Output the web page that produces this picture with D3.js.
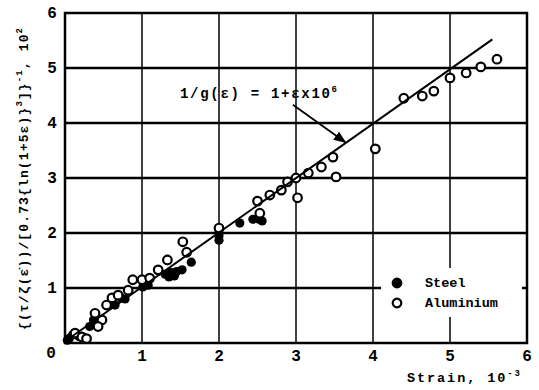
<!DOCTYPE html>
<html>
<head>
<meta charset="utf-8">
<script src="https://cdn.jsdelivr.net/npm/d3@7"></script>
<style>
  body { margin: 0; background: #fff; }
  svg { display: block; font-family: "Liberation Mono", "DejaVu Sans Mono", monospace; font-weight: bold; }
</style>
</head>
<body>
<div id="chart"></div>
<script>
// strain (10^-3) vs inverse normalised stress (10^2)
const steel = [
  [0.03, 0.05], [0.06, 0.09], [0.10, 0.15], [0.18, 0.12], [0.32, 0.30], [0.37, 0.42],
  [0.65, 0.69], [0.73, 0.82], [0.78, 0.80], [1.01, 1.02], [1.08, 1.05], [1.05, 1.10],
  [1.30, 1.25], [1.38, 1.28], [1.45, 1.30], [1.52, 1.33], [1.42, 1.22], [1.35, 1.20],
  [1.64, 1.47], [2.00, 2.05], [2.00, 1.87], [2.00, 1.95], [2.27, 2.18], [2.44, 2.25],
  [2.52, 2.25], [2.56, 2.22]
];
const aluminium = [
  [0.13, 0.18], [0.22, 0.11], [0.28, 0.08], [0.39, 0.54], [0.48, 0.42], [0.43, 0.30],
  [0.54, 0.69], [0.61, 0.82], [0.69, 0.87], [0.82, 0.96], [0.88, 1.15], [1.00, 1.15],
  [1.10, 1.18], [1.21, 1.33], [1.33, 1.51], [1.53, 1.84], [1.58, 1.65], [2.00, 2.09],
  [2.53, 2.36], [2.50, 2.58], [2.66, 2.69], [2.81, 2.78], [2.89, 2.93], [3.00, 3.00],
  [3.02, 2.64], [3.16, 3.09], [3.33, 3.20], [3.48, 3.38], [3.52, 3.02], [4.03, 3.53],
  [4.40, 4.45], [4.64, 4.49], [4.79, 4.58], [5.00, 4.82], [5.21, 4.91], [5.40, 5.02],
  [5.61, 5.16]
];
const fitLine = [[0.02, 0.05], [5.55, 5.52]];
const arrowPts = [[2.96, 4.33], [3.64, 3.65]];
const xTicks = [1, 2, 3, 4, 5, 6];
const yTicks = [1, 2, 3, 4, 5, 6];

const width = 539, height = 390;
const margin = { top: 13, right: 12, bottom: 47, left: 65 };

const x = d3.scaleLinear().domain([0, 6]).range([margin.left, width - margin.right]);
const y = d3.scaleLinear().domain([0, 6]).range([height - margin.bottom, margin.top]);

const svg = d3.select("#chart").append("svg")
    .attr("width", width)
    .attr("height", height);

svg.append("defs").append("marker")
    .attr("id", "arrow")
    .attr("viewBox", "0 0 10 10")
    .attr("refX", 9).attr("refY", 5)
    .attr("markerWidth", 7).attr("markerHeight", 7)
    .attr("orient", "auto")
    .append("path")
    .attr("d", "M0,1 L10,5 L0,9 z")
    .attr("fill", "#000");

// grid
svg.append("g")
    .selectAll("line")
    .data(xTicks.slice(0, -1))
    .join("line")
    .attr("x1", d => x(d)).attr("x2", d => x(d))
    .attr("y1", y(0)).attr("y2", y(6))
    .attr("stroke", "#000").attr("stroke-width", 1.5);

svg.append("g")
    .selectAll("line")
    .data(yTicks.slice(0, -1))
    .join("line")
    .attr("x1", x(0)).attr("x2", x(6))
    .attr("y1", d => y(d)).attr("y2", d => y(d))
    .attr("stroke", "#000").attr("stroke-width", 2.5);

// frame
svg.append("rect")
    .attr("x", x(0)).attr("y", y(6))
    .attr("width", x(6) - x(0)).attr("height", y(0) - y(6))
    .attr("fill", "none").attr("stroke", "#000").attr("stroke-width", 2.5);

// tick labels
svg.append("g")
    .attr("font-size", 16)
    .attr("text-anchor", "middle")
    .selectAll("text")
    .data(xTicks)
    .join("text")
    .attr("x", d => x(d)).attr("y", y(0) + 18)
    .text(d => d);

svg.append("g")
    .attr("font-size", 16)
    .attr("text-anchor", "middle")
    .selectAll("text")
    .data(yTicks)
    .join("text")
    .attr("x", 52).attr("y", d => y(d) + 5)
    .text(d => d);

svg.append("text")
    .attr("x", 51).attr("y", y(0) + 15)
    .attr("font-size", 16).attr("text-anchor", "middle")
    .text("0");

// axis titles
const xt = svg.append("text")
    .attr("x", 407).attr("y", 382)
    .attr("font-size", 13.5)
    .attr("textLength", 113).attr("lengthAdjust", "spacing");
xt.append("tspan").text("Strain, 10");
xt.append("tspan").attr("dy", -6).attr("font-size", 9).text("-3");

const yt = svg.append("text")
    .attr("transform", "translate(28,330) rotate(-90)")
    .attr("font-size", 13)
    .attr("textLength", 302).attr("lengthAdjust", "spacing");
yt.append("tspan").text("{(τ/ζ(ε̇))/[0.73{ln(1+5ε)}");
yt.append("tspan").attr("dy", -6).attr("font-size", 9).text("3");
yt.append("tspan").attr("dy", 6).text("]}");
yt.append("tspan").attr("dy", -6).attr("font-size", 9).text("-1");
yt.append("tspan").attr("dy", 6).text(", 10");
yt.append("tspan").attr("dy", -6).attr("font-size", 9).text("2");

// legend background breaks the grid
svg.append("rect")
    .attr("x", 381).attr("y", 268)
    .attr("width", 141).attr("height", 49)
    .attr("fill", "#fff");

// points
svg.append("g")
    .selectAll("circle")
    .data(steel)
    .join("circle")
    .attr("cx", d => x(d[0])).attr("cy", d => y(d[1]))
    .attr("r", 4.6)
    .attr("fill", "#000");

svg.append("g")
    .selectAll("circle")
    .data(aluminium)
    .join("circle")
    .attr("cx", d => x(d[0])).attr("cy", d => y(d[1]))
    .attr("r", 4.3)
    .attr("fill", "#fff")
    .attr("stroke", "#000").attr("stroke-width", 2.2);

// fitted line
svg.append("path")
    .attr("d", d3.line().x(d => x(d[0])).y(d => y(d[1]))(fitLine))
    .attr("stroke", "#000").attr("stroke-width", 2).attr("fill", "none");

// annotation
const ann = svg.append("text")
    .attr("x", 180).attr("y", 98)
    .attr("font-size", 14)
    .attr("textLength", 157).attr("lengthAdjust", "spacing");
ann.append("tspan").text("1/g(ε) = 1+εx10");
ann.append("tspan").attr("dy", -6).attr("font-size", 9).text("6");

svg.append("path")
    .attr("d", d3.line().x(d => x(d[0])).y(d => y(d[1]))(arrowPts))
    .attr("stroke", "#000").attr("stroke-width", 1.8)
    .attr("marker-end", "url(#arrow)");

// legend
const legend = [
  { label: "Steel", filled: true },
  { label: "Aluminium", filled: false }
];
const lg = svg.append("g")
    .selectAll("g")
    .data(legend)
    .join("g")
    .attr("transform", (d, i) => `translate(397,${283 + i * 20})`);
lg.append("circle")
    .attr("r", 4.3)
    .attr("fill", d => d.filled ? "#000" : "#fff")
    .attr("stroke", "#000").attr("stroke-width", 2.2);
lg.append("text")
    .attr("x", 28).attr("y", 4)
    .attr("font-size", 13.5)
    .text(d => d.label);
</script>
</body>
</html>
